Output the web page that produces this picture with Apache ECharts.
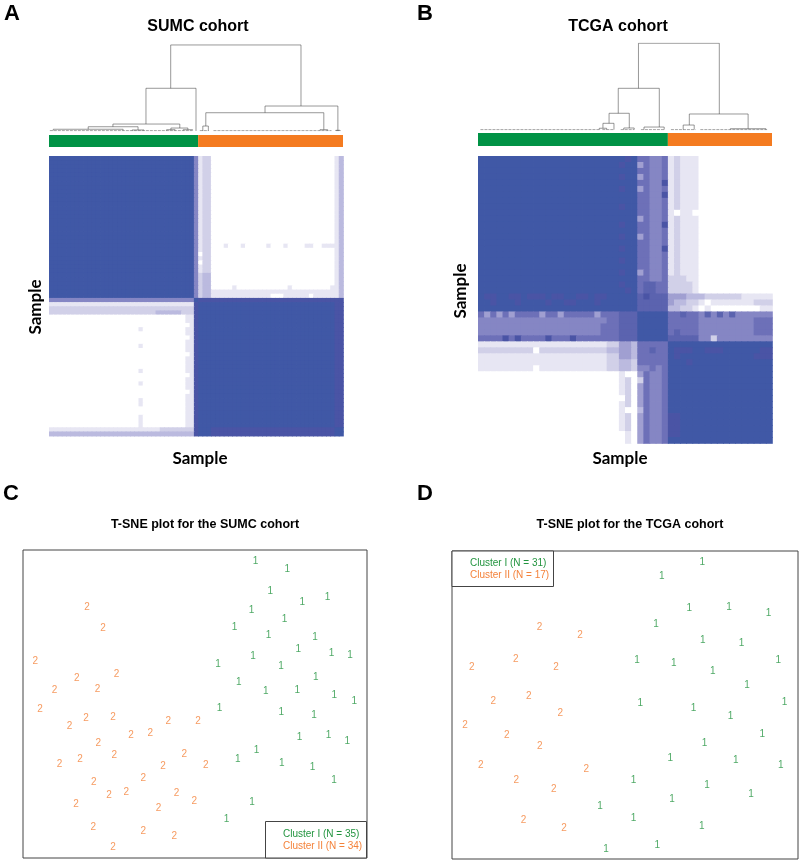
<!DOCTYPE html>
<html><head><meta charset="utf-8">
<script src="https://cdn.jsdelivr.net/npm/echarts@6/dist/echarts.min.js"></script>
<style>html,body{margin:0;padding:0;background:#fff}#c{width:800px;height:863px}</style>
</head><body><div id="c"></div><script>
// ---------------- DATA ----------------
const A_CLUSTER_SIZES = [35, 34];
const B_CLUSTER_SIZES = [31, 17];
const LEVEL_COLORS = ['#ffffff','#e7e6f3','#d1d0e8','#bbbadf','#a09fd1','#8586c4','#6d70b8','#5b63af','#4a54a5','#4058a6'];

// consensus matrices, run-length encoded rows: "level*count"
const A_MATRIX_RLE = [
"9*34,5,1,2*2,0*29,1,3","9*34,5,1,2*2,0*29,1,3","9*34,5,1,2*2,0*29,1,3","9*34,5,1,2*2,0*29,1,3",
"9*34,5,1,2*2,0*29,1,3","9*34,5,1,2*2,0*29,1,3","9*34,5,1,2*2,0*29,1,3","9*34,5,1,2*2,0*29,1,3",
"9*34,5,1,2*2,0*29,1,3","9*34,5,1,2*2,0*29,1,3","9*34,5,1,2*2,0*29,1,3","9*34,5,1,2*2,0*29,1,3",
"9*34,5,1,2*2,0*29,1,3","9*34,5,1,2*2,0*29,1,3","9*34,5,1,2*2,0*29,1,3","9*34,5,1,2*2,0*29,1,3",
"9*34,5,1,2*2,0*29,1,3","9*34,5,1,2*2,0*29,1,3","9*34,5,1,2*2,0*29,1,3","9*34,5,1,2*2,0*29,1,3",
"9*34,5,1,2*2,0*29,1,3",
"9*34,5,1,2*2,0*3,1,0*3,1,0*5,1,0*3,1,0*4,1*2,0*2,1*3,1,3",
"9*34,5,1,2*2,0*29,1,3","9*34,5,0,2*2,0*29,1,3","9*34,5,1,2*2,0*29,1,3","9*34,5,0,2*2,0*29,1,3",
"9*34,5,1,2*2,0*29,1,3","9*34,5,1,2*2,0*29,1,3",
"9*34,5,2,3*2,0*29,1,3","9*34,5,2,3*2,0*29,1,3","9*34,5,2,3*2,0*29,1,3",
"9*34,5,2,3*2,0*5,1,0*12,1,0*9,1,1,3",
"9*34,5,2,3*2,1*29,1,3",
"9*34,5,2,3*2,1*14,0*3,1*6,0,1*5,1,3",
"5*34,9,8*3,8*29,8*2",
"1*34,8,9*3,9*29,8*2",
"2*34,8,9*3,9*29,8*2",
"2*25,3*6,2*3,8,9*3,9*29,8*2",
"0*32,1*2,8,9*3,9*29,8*2","0*32,1*2,8,9*3,9*29,8*2","0*33,1,8,9*3,9*29,8*2",
"0*21,1,0*10,1*2,8,9*3,9*29,8*2",
"0*32,1*2,8,9*3,9*29,8*2","0*33,1,8,9*3,9*29,8*2","0*32,1*2,8,9*3,9*29,8*2",
"0*21,1,0*10,1*2,8,9*3,9*29,8*2",
"0*32,1*2,8,9*3,9*29,8*2","0*33,1,8,9*3,9*29,8*2","0*32,1*2,8,9*3,9*29,8*2",
"0*32,1*2,8,9*3,9*29,8*2","0*32,1*2,8,9*3,9*29,8*2",
"0*21,1,0*10,1*2,8,9*3,9*29,8*2",
"0*33,1,8,9*3,9*29,8*2","0*32,1*2,8,9*3,9*29,8*2",
"0*21,1,0*10,1*2,8,9*3,9*29,8*2",
"0*32,1*2,8,9*3,9*29,8*2","0*33,1,8,9*3,9*29,8*2","0*32,1*2,8,9*3,9*29,8*2",
"0*21,1,0*10,1*2,8,9*3,9*29,8*2","0*21,1,0*10,1*2,8,9*3,9*29,8*2",
"0*32,1*2,8,9*3,9*29,8*2","0*32,1*2,8,9*3,9*29,8*2",
"0*21,1,0*10,1*2,8,9*3,9*29,8*2","0*21,1,0*10,1*2,8,9*3,9*29,8*2","0*21,1,0*10,1*2,8,9*3,9*29,8*2",
"1*26,2*8,8,9*3,8*29,9*2",
"3*34,8,9*3,8*29,9*2"
];

const B_MATRIX_RLE = [
"9*23,9,8,9,6*2,5*2,6,1,2,1*3,0*12",
"9*23,8,9,9,4,6,5*2,6,1,2,1*3,0*12",
"9*23,9,9,9,6*2,5*2,6,1,2,1*3,0*12",
"9*23,8,9,9,4,6,5*2,6,1,2,1*3,0*12",
"9*23,9,9,9,6*2,5*2,8,1,2,1*3,0*12",
"9*23,8,9,9,4,6,5*2,6,1,2,1*3,0*12",
"9*23,9,9,9,6*2,5*2,8,1,2,1*3,0*12",
"9*23,9,9,9,6*2,5*2,6,1,2,1*3,0*12",
"9*23,8,9,9,6*2,5*2,6,1,2,1*3,0*12",
"9*23,9,9,9,6*2,5*2,6,1,0,1*2,0,0*12",
"9*23,9,9,9,4,6,5*2,6,1,2,1*3,0*12",
"9*23,8,9,9,6*2,5*2,8,1,2,1*3,0*12",
"9*23,9,9,9,6*2,5*2,6,1,2,1*3,0*12",
"9*23,8,9,9,4,6,5*2,6,1,2,1*3,0*12",
"9*23,9,9,9,6*2,5*2,6,1,2,1*3,0*12",
"9*23,8,9,9,6*2,5*2,8,1,2,1*3,0*12",
"9*23,9,9,9,6*2,5*2,6,1,2,1*3,0*12",
"9*23,8,9,9,6*2,5*2,6,1,2,1*3,0*12",
"9*23,9,9,9,6*2,5*2,6,1,2,1*3,0*12",
"9*23,8,9,9,4,6,5*2,6,1,2,1*3,0*12",
"9*23,9,9,9,6*2,5*2,6,2,2,2,1,1,0*12",
"9*23,8,9,9,6,7,7,6,6,2*4,1,0*12",
"9*23,9,8,9,6,7,7,6,6,2*4,1,0*12",
"9,8*2,9*2,8*2,9,8*3,9,8*2,9*2,8*2,9,8*2,9*2,9*3,7,8,7*3,4*3,3*2,3,2*6,1*5",
"9*2,8,9*3,8,9*4,8,9*2,8*2,9*3,8,9*3,9*3,7*5,4,3*2,2*2,1,0,1*7,2*3",
"9*23,9*3,7*5,3*2,2*2,1,0,1,0*8,1*2",
"6,4,6,4,6,4,6*4,4,6*2,4,6*5,4,6*3,7*3,9*5,6*2,7,6*2,5,7,5,7,5,7,5*6",
"5*21,6*2,7*3,9*5,6*5,5*9,6*3",
"5*20,6*3,7*3,9*5,6*5,5*9,6*3",
"5*20,6*3,7*3,9*5,6,7,6*3,5*9,6*3",
"6*4,8,6,8,6*4,8,6*3,8,6*7,7*3,9*5,7*5,5*2,2,5*9",
"1*21,2*2,4*2,3,6*5,9*5,9*12",
"2*9,0,2*11,3*2,4*2,3,6*2,7,6*2,9,8*3,9,9,8*3,9*6,8*2",
"1*21,2*2,4*2,3,6*5,9,8,9*3,9*9,8*3",
"1*21,2*2,3*2,2,6*5,9*3,8,9,9*12",
"1*9,0,1*11,2*2,3*2,2,5*2,6,5,6,9*5,9*12",
"0*23,1,0,0,4,6,5*2,6,9*5,9*12",
"0*23,1,2,0,2,6,5*2,6,9*5,9*12",
"0*23,1,2,0,4,6,5*2,6,9*5,9*12",
"0*23,1,2,0,4,6,5*2,6,9*5,9*12",
"0*23,0,2,0,4,6,5*2,6,9*5,9*12",
"0*23,1,2,0,4,6,5*2,6,9*5,9*12",
"0*23,1,0,0,3,6,5*2,6,9*5,9*12",
"0*23,1,2,0,4,6,5*2,6,8*2,9*3,9*12",
"0*23,1,2,0,4,6,5*2,6,8*2,9*3,9*12",
"0*23,1,2,0,4,6,5*2,6,8*2,9*3,9*12",
"0*23,0,1,0,4,6,5*2,6,8*2,9*3,9*12",
"0*23,0,1,0,4,6,5*2,6,9*5,9*12"
];

// dendrogram merges: [xLeft, hLeft, xRight, hRight, hMerge] (x in sample units, h 0..100)
const A_MERGES = [
  [28.56, 49.1, 59.14, 28.7, 98.9],
  [22.76, 8.0, 34.5, 0, 49.1],
  [50.7, 21.0, 67.8, 0.8, 28.7],
  [15.0, 4.9, 30.7, 3.4, 8.0],
  [9.2, 2.0, 20.9, 1.2, 4.9],
  [28.6, 1.5, 32.6, 1.5, 3.4],
  [36.8, 5.7, 64.5, 1.5, 21.0],
  [36.1, 0, 37.4, 0, 5.7],
  [1.0, 0.5, 17.4, 0.5, 2.0],
  [19.5, 0.5, 22.3, 0.5, 1.2],
  [27.6, 0.5, 29.6, 0.5, 1.5],
  [31.5, 0.5, 33.7, 0.5, 1.5],
  [63.6, 0.5, 65.4, 0.5, 1.5],
  [67.3, 0, 68.3, 0, 0.8]
];
const A_LEAF_RUNS = [[0.2, 33.6], [35.4, 37.4], [38.6, 66.3], [67.4, 68.4]];

const B_MERGES = [
  [26.2, 47.9, 39.4, 18.4, 99.7],
  [22.9, 19.2, 29.6, 3.4, 47.9],
  [34.5, 5.7, 44.1, 1.5, 18.4],
  [21.4, 7.7, 24.7, 2.3, 19.2],
  [27.1, 0.5, 30.4, 0.5, 3.4],
  [20.4, 2.0, 22.2, 0.5, 7.7],
  [19.8, 0.5, 21.0, 0.5, 2.0],
  [23.8, 0.5, 25.5, 0.5, 2.3],
  [33.5, 0.5, 35.3, 0.5, 5.7],
  [41.2, 0.5, 47.0, 0.5, 1.5]
];
const B_LEAF_RUNS = [[0.4, 20.0], [20.3, 22.2], [23.3, 25.5], [26.6, 30.4], [31.5, 35.5], [36.3, 47.2]];

// t-SNE coordinates (normalised 0..100)
const C_CLUSTER1 = [[67.6,96.2],[76.8,93.7],[71.9,86.5],[81.2,82.9],[88.5,84.5],[66.4,80.4],[76.0,77.6],[61.5,74.8],[71.4,72.3],[84.9,71.8],[80.0,67.9],[89.7,66.6],[95.1,65.9],[66.9,65.4],[56.7,62.9],[75.0,62.3],[85.1,58.6],[62.7,56.9],[70.6,54.3],[79.7,54.4],[90.5,52.8],[96.3,51.0],[57.1,48.5],[75.1,47.2],[84.6,46.3],[80.4,39.1],[88.8,39.8],[94.3,37.8],[67.9,35.0],[62.4,31.9],[75.2,30.8],[84.2,29.4],[90.4,25.4],[66.6,18.0],[59.2,12.5]];
const C_CLUSTER2 = [[18.6,81.4],[23.3,74.5],[3.6,63.9],[27.2,59.8],[15.6,58.3],[9.2,54.6],[21.7,54.8],[4.95,48.3],[18.3,45.5],[26.2,45.7],[13.5,42.9],[42.2,44.3],[50.9,44.3],[31.4,39.9],[37.0,40.4],[21.9,37.4],[26.5,33.3],[46.9,33.7],[10.6,30.3],[16.6,32.0],[40.7,29.8],[53.1,30.0],[35.0,26.0],[20.6,24.7],[25.0,20.5],[30.0,21.5],[44.6,21.1],[49.8,18.5],[15.4,17.3],[39.4,16.0],[20.4,10.1],[35.0,8.8],[44.0,7.0],[26.2,3.4]];
const D_CLUSTER1 = [[72.3,96.2],[60.6,91.9],[68.6,81.3],[80.1,81.6],[91.5,79.9],[59.0,76.2],[72.5,71.1],[83.7,70.2],[53.5,64.5],[64.1,63.7],[94.3,64.4],[75.4,61.1],[85.3,56.5],[54.4,50.6],[69.8,49.0],[96.1,50.9],[80.5,46.2],[89.7,40.4],[73.0,37.7],[63.1,32.8],[82.0,32.2],[95.0,30.3],[52.5,25.7],[73.7,24.1],[86.4,21.1],[63.6,19.3],[42.8,17.0],[52.5,13.3],[72.2,10.5],[44.5,3.3],[59.3,4.4]];
const D_CLUSTER2 = [[25.3,75.2],[37.0,72.8],[18.4,64.8],[5.7,62.4],[30.1,62.2],[22.2,52.7],[11.9,51.3],[31.3,47.4],[3.8,43.3],[15.8,40.3],[25.4,36.5],[8.3,30.5],[38.8,29.0],[18.6,25.7],[29.4,22.7],[20.7,12.7],[32.4,10.0]];

// ---------------- BUILD ----------------
const GREEN = '#009245', ORANGE = '#f47b20';
const TXT_GREEN = '#22943f', TXT_ORANGE = '#f4823a';

function decodeRow(rle) {
  const out = [];
  rle.split(',').forEach(tok => {
    const p = tok.split('*');
    const n = p.length > 1 ? +p[1] : 1;
    for (let i = 0; i < n; i++) out.push(+p[0]);
  });
  return out;
}
function heatData(rows) {
  const d = [];
  rows.forEach((r, ri) => decodeRow(r).forEach((v, ci) => d.push([ci, ri, v])));
  return d;
}
function mergeLines(merges) {
  return merges.map(m => ({coords: [[m[0], m[1]], [m[0], m[4]], [m[2], m[4]], [m[2], m[3]]]}));
}
function leafLines(runs) {
  return runs.map(r => ({coords: [[r[0], 0.4], [r[1], 0.4]]}));
}
const nA = A_CLUSTER_SIZES[0] + A_CLUSTER_SIZES[1];
const nB = B_CLUSTER_SIZES[0] + B_CLUSTER_SIZES[1];
const catsA = Array.from({length: nA}, (_, i) => String(i));
const catsB = Array.from({length: nB}, (_, i) => String(i));

const grids = [
  {left: 49, top: 156, width: 294, height: 288},   // 0 heat A
  {left: 478, top: 156, width: 294, height: 287},  // 1 heat B
  {left: 49, top: 135, width: 294, height: 12},    // 2 bar A
  {left: 478, top: 133, width: 294, height: 13},   // 3 bar B
  {left: 49, top: 44, width: 294, height: 87},     // 4 dendro A
  {left: 478, top: 43, width: 294, height: 87},    // 5 dendro B
  {left: 23, top: 550, width: 344, height: 308, show: true, borderColor: '#444', borderWidth: 1}, // 6 tsne C
  {left: 452, top: 551, width: 346, height: 308, show: true, borderColor: '#444', borderWidth: 1} // 7 tsne D
];
const hid = {show: false};
const xAxes = [
  {type: 'category', data: catsA, gridIndex: 0, ...hid},
  {type: 'category', data: catsB, gridIndex: 1, ...hid},
  {type: 'value', min: 0, max: nA, gridIndex: 2, ...hid},
  {type: 'value', min: 0, max: nB, gridIndex: 3, ...hid},
  {type: 'value', min: 0, max: nA, gridIndex: 4, ...hid},
  {type: 'value', min: 0, max: nB, gridIndex: 5, ...hid},
  {type: 'value', min: 0, max: 100, gridIndex: 6, ...hid},
  {type: 'value', min: 0, max: 100, gridIndex: 7, ...hid}
];
const yAxes = [
  {type: 'category', data: catsA, gridIndex: 0, inverse: true, ...hid},
  {type: 'category', data: catsB, gridIndex: 1, inverse: true, ...hid},
  {type: 'category', data: ['c'], gridIndex: 2, ...hid},
  {type: 'category', data: ['c'], gridIndex: 3, ...hid},
  {type: 'value', min: 0, max: 100, gridIndex: 4, ...hid},
  {type: 'value', min: 0, max: 100, gridIndex: 5, ...hid},
  {type: 'value', min: 0, max: 100, gridIndex: 6, ...hid},
  {type: 'value', min: 0, max: 100, gridIndex: 7, ...hid}
];

function textSeries(name, data, axis, color, label) {
  return {
    name, type: 'scatter', xAxisIndex: axis, yAxisIndex: axis, data,
    symbol: 'circle', symbolSize: 1, itemStyle: {color: 'rgba(0,0,0,0)'}, silent: true,
    label: {show: true, position: 'inside', formatter: label, color,
            fontFamily: 'Liberation Sans, Arial, sans-serif', fontSize: 10}
  };
}
function cellSeries(axis, rows) {
  return {
    type: 'custom', xAxisIndex: axis, yAxisIndex: axis, data: heatData(rows), silent: true,
    encode: {x: 0, y: 1},
    renderItem: (params, api) => {
      const c = api.coord([api.value(0), api.value(1)]);
      const s = api.size([1, 1]);
      return {type: 'rect', shape: {x: c[0] - s[0] / 2, y: c[1] - s[1] / 2, width: s[0] + 0.8, height: s[1] + 0.8},
        style: {fill: api.visual('color')}};
    }
  };
}
const lineStyle = {color: '#333', width: 1};
const combStyle = {color: '#444', width: 1, type: [3, 1]};
const series = [
  cellSeries(0, A_MATRIX_RLE),
  cellSeries(1, B_MATRIX_RLE),
  {type: 'bar', xAxisIndex: 2, yAxisIndex: 2, stack: 'a', data: [A_CLUSTER_SIZES[0]], barWidth: '100%', itemStyle: {color: GREEN}, silent: true},
  {type: 'bar', xAxisIndex: 2, yAxisIndex: 2, stack: 'a', data: [A_CLUSTER_SIZES[1]], barWidth: '100%', itemStyle: {color: ORANGE}, silent: true},
  {type: 'bar', xAxisIndex: 3, yAxisIndex: 3, stack: 'b', data: [B_CLUSTER_SIZES[0]], barWidth: '100%', itemStyle: {color: GREEN}, silent: true},
  {type: 'bar', xAxisIndex: 3, yAxisIndex: 3, stack: 'b', data: [B_CLUSTER_SIZES[1]], barWidth: '100%', itemStyle: {color: ORANGE}, silent: true},
  {type: 'lines', coordinateSystem: 'cartesian2d', xAxisIndex: 4, yAxisIndex: 4, polyline: true, data: mergeLines(A_MERGES), lineStyle, silent: true},
  {type: 'lines', coordinateSystem: 'cartesian2d', xAxisIndex: 4, yAxisIndex: 4, polyline: true, data: leafLines(A_LEAF_RUNS), lineStyle: combStyle, silent: true},
  {type: 'lines', coordinateSystem: 'cartesian2d', xAxisIndex: 5, yAxisIndex: 5, polyline: true, data: mergeLines(B_MERGES), lineStyle, silent: true},
  {type: 'lines', coordinateSystem: 'cartesian2d', xAxisIndex: 5, yAxisIndex: 5, polyline: true, data: leafLines(B_LEAF_RUNS), lineStyle: combStyle, silent: true},
  textSeries('C1', C_CLUSTER1, 6, TXT_GREEN, '1'),
  textSeries('C2', C_CLUSTER2, 6, TXT_ORANGE, '2'),
  textSeries('D1', D_CLUSTER1, 7, TXT_GREEN, '1'),
  textSeries('D2', D_CLUSTER2, 7, TXT_ORANGE, '2')
];

function txt(str, x, y, font, fill, rot, align) {
  return {type: 'text', x, y, rotation: rot || 0, silent: true, z: 100,
    style: {text: str, x: 0, y: 0, font, fill: fill || '#000',
      textAlign: align || 'center', textVerticalAlign: 'middle', align: align || 'center', verticalAlign: 'middle'}};
}
const LETTER = 'bold 22px "Liberation Sans", Arial, sans-serif';
const HEAD = 'bold 16px "Liberation Sans", Arial, sans-serif';
const SAMPLE = 'bold 17px Lato, "Open Sans", sans-serif';
const TSNE = 'bold 12.5px "Liberation Sans", Arial, sans-serif';
const LEG = '10px "Liberation Sans", Arial, sans-serif';
const graphic = [
  txt('A', 12, 14, LETTER), txt('B', 425, 14, LETTER),
  txt('C', 11, 494, LETTER), txt('D', 425, 494, LETTER),
  txt('SUMC cohort', 198, 27, HEAD), txt('TCGA cohort', 618, 27, HEAD),
  txt('Sample', 200, 459, SAMPLE), txt('Sample', 620, 459, SAMPLE),
  txt('Sample', 36, 307, SAMPLE, '#000', Math.PI / 2),
  txt('Sample', 461, 291, SAMPLE, '#000', Math.PI / 2),
  txt('T-SNE plot for the SUMC cohort', 205, 525, TSNE),
  txt('T-SNE plot for the TCGA cohort', 630, 525, TSNE),
  {type: 'rect', shape: {x: 265.5, y: 821.5, width: 101, height: 36.5}, style: {fill: '#fff', stroke: '#444', lineWidth: 1}, z: 99, silent: true},
  txt('Cluster I (N = ' + C_CLUSTER1.length + ')', 283, 834, LEG, TXT_GREEN, 0, 'left'),
  txt('Cluster II (N = ' + C_CLUSTER2.length + ')', 283, 846, LEG, TXT_ORANGE, 0, 'left'),
  {type: 'rect', shape: {x: 452, y: 551, width: 101.5, height: 35.5}, style: {fill: '#fff', stroke: '#444', lineWidth: 1}, z: 99, silent: true},
  txt('Cluster I (N = ' + D_CLUSTER1.length + ')', 470, 563, LEG, TXT_GREEN, 0, 'left'),
  txt('Cluster II (N = ' + D_CLUSTER2.length + ')', 470, 575, LEG, TXT_ORANGE, 0, 'left')
];

const chart = echarts.init(document.getElementById('c'), null, {renderer: 'canvas'});
chart.setOption({
  animation: false,
  backgroundColor: '#fff',
  grid: grids, xAxis: xAxes, yAxis: yAxes,
  visualMap: {type: 'piecewise', show: false, seriesIndex: [0, 1], dimension: 2,
    pieces: LEVEL_COLORS.map((c, i) => ({value: i, color: c}))},
  series, graphic
});
</script></body></html>
